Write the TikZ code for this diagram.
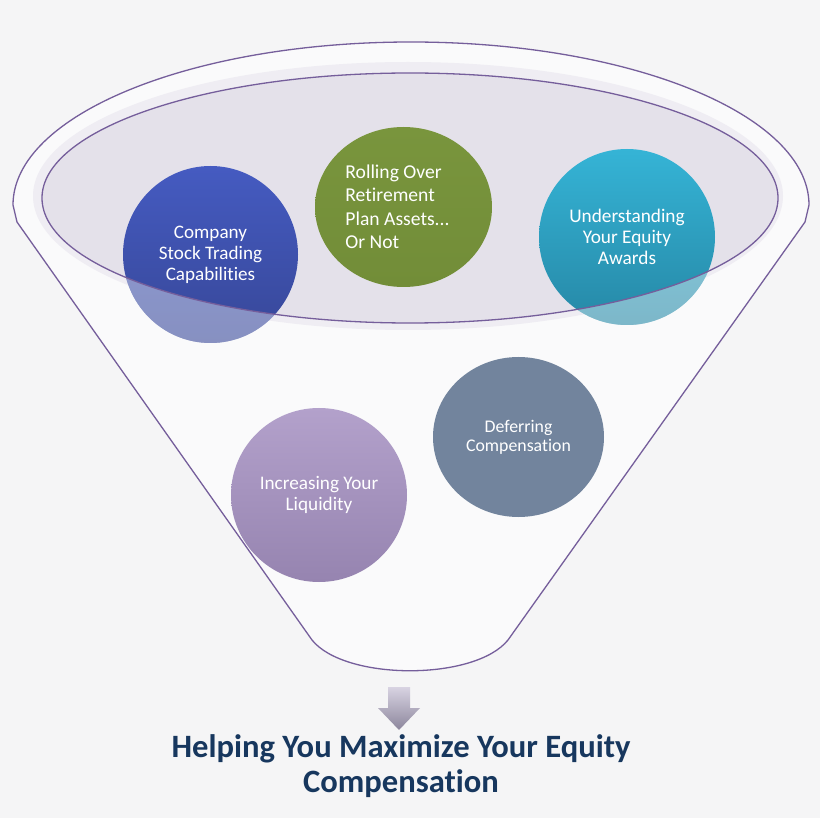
\documentclass[tikz,border=0pt]{standalone}
\usepackage{fontspec}
\setmainfont{Carlito}[Ligatures=NoCommon]
\usetikzlibrary{positioning,shapes.geometric}

\definecolor{bgc}{RGB}{245,245,246}
\definecolor{rimfill}{RGB}{250,250,251}
\definecolor{halo}{RGB}{239,237,243}
\definecolor{lens}{RGB}{228,225,234}
\definecolor{rimline}{RGB}{117,94,155}
\definecolor{bluetop}{RGB}{69,91,193}
\definecolor{bluebot}{RGB}{55,71,152}
\definecolor{greentop}{RGB}{121,149,61}
\definecolor{greenbot}{RGB}{114,141,56}
\definecolor{cyantop}{RGB}{53,180,214}
\definecolor{cyanbot}{RGB}{38,136,166}
\definecolor{slate}{RGB}{114,132,157}
\definecolor{lavtop}{RGB}{179,161,203}
\definecolor{lavbot}{RGB}{150,132,176}
\definecolor{arrtop}{RGB}{216,211,226}
\definecolor{arrbot}{RGB}{140,134,156}
\definecolor{titlec}{RGB}{23,55,94}

\begin{document}
\begin{tikzpicture}[
    x=1pt, y=-1pt,
    bubble/.style ={ellipse, inner sep=0pt, align=center, text=white, draw=none},
    bubtext/.style={inner sep=0pt, text=white},
    rim/.style    ={draw=rimline, line width=1.3pt},
    fade/.style   ={white, opacity=.4, even odd rule},
    headline/.style={font=\fontsize{32.6}{35}\selectfont\bfseries, text=titlec, align=center},
]

% ============================================================
% BACKGROUND + FUNNEL BODY
% ============================================================
\fill[bgc] (0,0) rectangle (820,818);
\useasboundingbox (0,0) rectangle (820,818);

\fill[rimfill] (312,640) -- (17,222) -- (13,205)
    arc[start angle=180, end angle=360, x radius=398, y radius=163]
    -- (805,222) -- (508,640) .. controls (475,681) and (345,681) .. (312,640) -- cycle;

% opening of the funnel
\fill[halo] (408,196) ellipse [x radius=375, y radius=134];
\fill[lens] (410,198) ellipse [x radius=368, y radius=125];

% ============================================================
% BUBBLES
% ============================================================
\node[bubble, minimum width=175, minimum height=177,
      top color=bluetop, bottom color=bluebot,
      font=\fontsize{19.1}{21}\selectfont] (trading) at (210.5,254.5)
    {Company\\Stock Trading\\Capabilities};
\node[bubble, minimum width=177, minimum height=160,
      top color=greentop, bottom color=greenbot] (rollover) at (403.5,207) {};
\node[bubtext, align=left, xshift=-6, font=\fontsize{19.6}{23.5}\selectfont]
    (rolltext) at (rollover.center)
    {Rolling Over\\Retirement\\Plan Assets...\\Or Not};
\node[bubble, minimum width=176, minimum height=176,
      top color=cyantop, bottom color=cyanbot,
      font=\fontsize{19.3}{21}\selectfont] (awards) at (627,237)
    {Understanding\\Your Equity\\Awards};
\node[bubble, minimum width=171, minimum height=160, fill=slate,
      font=\fontsize{17.8}{19}\selectfont] (deferring) at (518.5,437)
    {Deferring\\Compensation};
\node[bubble, minimum width=176, minimum height=174,
      top color=lavtop, bottom color=lavbot,
      font=\fontsize{19.2}{21}\selectfont] (liquidity) at (319,495)
    {Increasing Your\\Liquidity};

% parts of the bubbles that stick out of the opening
\begin{scope}
  \clip (trading.center) ellipse [x radius=87.5, y radius=88.5];
  \fill[fade] (0,0) rectangle (820,818) (410,198) ellipse [x radius=368, y radius=125];
\end{scope}
\begin{scope}
  \clip (awards.center) ellipse [x radius=88, y radius=88];
  \fill[fade] (0,0) rectangle (820,818) (410,198) ellipse [x radius=368, y radius=125];
\end{scope}

% ============================================================
% OUTLINES
% ============================================================
\draw[rim] (410,198) ellipse [x radius=368, y radius=125];
\draw[rim] (312,640) -- (17,222) -- (13,205)
    arc[start angle=180, end angle=360, x radius=398, y radius=163]
    -- (805,222) -- (508,640) .. controls (475,681) and (345,681) .. (312,640) -- cycle;

% ============================================================
% ARROW + TITLE
% ============================================================
\shade[top color=arrtop, bottom color=arrbot]
    (388,687) -- (410,687) -- (410,708) -- (420,708) -- (399,730)
    -- (378,708) -- (388,708) -- cycle;

\node[headline] (title) at (401,766)
    {Helping You Maximize Your Equity\\Compensation};

\end{tikzpicture}
\end{document}
